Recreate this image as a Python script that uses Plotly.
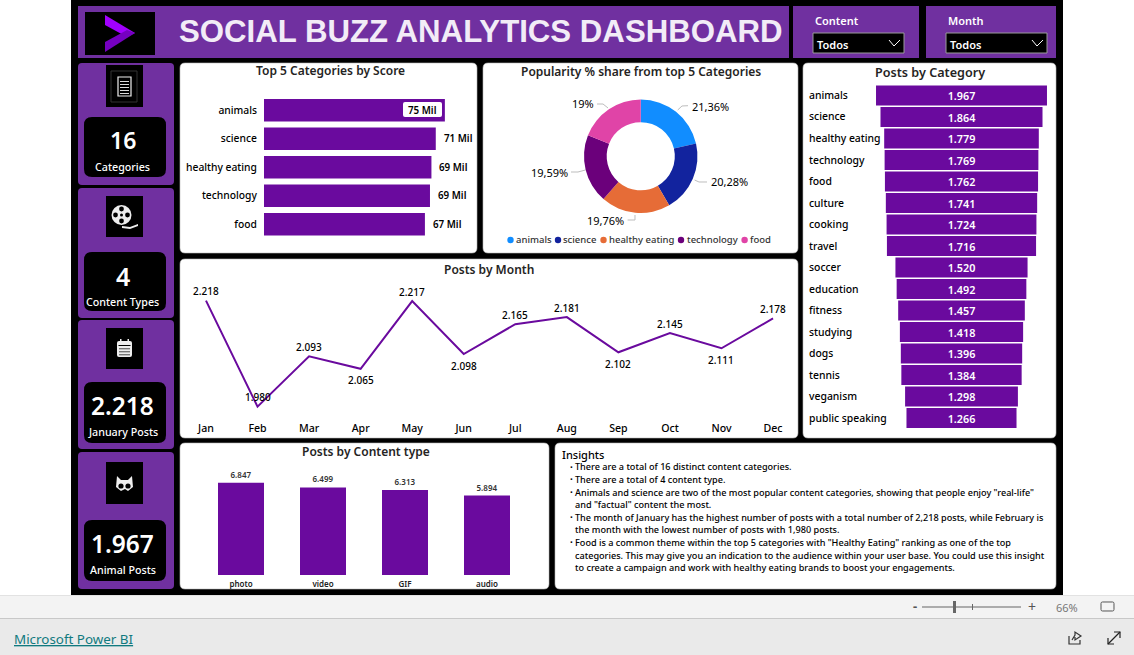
import plotly.graph_objects as go

W, H = 1134, 655
FONT = "Noto Sans"
PURPLE = "#6A0A9E"
PANEL = "#7030A0"
INK = "#252423"

top_categories = ["animals", "science", "healthy eating", "technology", "food"]
top_scores = [74.97, 71.2, 69.4, 68.8, 66.7]
top_labels = ["75 Mil", "71 Mil", "69 Mil", "69 Mil", "67 Mil"]
share_values = [21.36, 20.28, 19.76, 19.59, 19.0]
share_labels = ["21,36%", "20,28%", "19,76%", "19,59%", "19%"]
share_colors = ["#118DFF", "#12239E", "#E66C37", "#6B007B", "#E044A7"]
post_categories = ["animals", "science", "healthy eating", "technology", "food", "culture", "cooking", "travel",
                   "soccer", "education", "fitness", "studying", "dogs", "tennis", "veganism", "public speaking"]
post_counts = [1967, 1864, 1779, 1769, 1762, 1741, 1724, 1716, 1520, 1492, 1457, 1418, 1396, 1384, 1298, 1266]
months = ["Jan", "Feb", "Mar", "Apr", "May", "Jun", "Jul", "Aug", "Sep", "Oct", "Nov", "Dec"]
month_posts = [2218, 1980, 2093, 2065, 2217, 2098, 2165, 2181, 2102, 2145, 2111, 2178]
content_types = ["photo", "video", "GIF", "audio"]
content_posts = [6847, 6499, 6313, 5894]
kpi_values = ["16", "4", "2.218", "1.967"]
kpi_names = ["Categories", "Content Types", "January Posts", "Animal Posts"]
insights = [
    "There are a total of 16 distinct content categories.",
    "There are a total of 4 content type.",
    'Animals and science are two of the most popular content categories, showing that people enjoy "real-life"',
    'and "factual" content the most.',
    "The month of January has the highest number of posts with a total number of 2,218 posts, while February is",
    "the month with the lowest number of posts with 1,980 posts.",
    'Food is a common theme within the top 5 categories with "Healthy Eating" ranking as one of the top',
    "categories. This may give you an indication to the audience within your user base. You could use this insight",
    "to create a campaign and work with healthy eating brands to boost your engagements.",
]
insight_bullets = [True, True, True, False, True, False, True, False, False]


def fmt(v):
    return f"{v:,}".replace(",", ".")


def X(x):
    return x / W


def Y(y):
    return 1 - y / H


def dom_x(a, b):
    return [X(a), X(b)]


def dom_y(top, bottom):
    return [Y(bottom), Y(top)]


shapes, notes = [], []


def path_of(pts, close=True):
    s = "M" + " L".join(f"{X(x):.5f},{Y(y):.5f}" for x, y in pts)
    return s + (" Z" if close else "")


def shape_path(pts, fill=None, line=None, lw=1, close=True, layer="below"):
    shapes.append(dict(type="path", xref="paper", yref="paper", path=path_of(pts, close), layer=layer,
                       fillcolor=fill if fill else "rgba(0,0,0,0)",
                       line=dict(color=line if line else "rgba(0,0,0,0)", width=lw if line else 0)))


def rect(x0, y0, x1, y1, fill=None, line=None, lw=1, layer="below"):
    shapes.append(dict(type="rect", xref="paper", yref="paper", x0=X(x0), x1=X(x1), y0=Y(y0), y1=Y(y1), layer=layer,
                       fillcolor=fill if fill else "rgba(0,0,0,0)",
                       line=dict(color=line if line else "rgba(0,0,0,0)", width=lw if line else 0)))


def rounded(x0, y0, x1, y1, r=5, fill="white", line=None, lw=1, layer="below"):
    p = (f"M{X(x0 + r):.5f},{Y(y0):.5f} L{X(x1 - r):.5f},{Y(y0):.5f} Q{X(x1):.5f},{Y(y0):.5f} {X(x1):.5f},{Y(y0 + r):.5f} "
         f"L{X(x1):.5f},{Y(y1 - r):.5f} Q{X(x1):.5f},{Y(y1):.5f} {X(x1 - r):.5f},{Y(y1):.5f} "
         f"L{X(x0 + r):.5f},{Y(y1):.5f} Q{X(x0):.5f},{Y(y1):.5f} {X(x0):.5f},{Y(y1 - r):.5f} "
         f"L{X(x0):.5f},{Y(y0 + r):.5f} Q{X(x0):.5f},{Y(y0):.5f} {X(x0 + r):.5f},{Y(y0):.5f} Z")
    shapes.append(dict(type="path", xref="paper", yref="paper", path=p, layer=layer, fillcolor=fill,
                       line=dict(color=line if line else "rgba(0,0,0,0)", width=lw if line else 0)))


def circle(cx, cy, rx, ry=None, fill=None, line=None, lw=1, layer="below"):
    ry = rx if ry is None else ry
    shapes.append(dict(type="circle", xref="paper", yref="paper", x0=X(cx - rx), x1=X(cx + rx), y0=Y(cy - ry), y1=Y(cy + ry),
                       layer=layer, fillcolor=fill if fill else "rgba(0,0,0,0)",
                       line=dict(color=line if line else "rgba(0,0,0,0)", width=lw if line else 0)))


def text(x, y, s, size=11, color=INK, anchor="left", weight=400, font=FONT):
    notes.append(dict(xref="paper", yref="paper", x=X(x), y=Y(y), text=s, showarrow=False, xanchor=anchor, yanchor="middle",
                      borderpad=0, font=dict(family=font, size=size, color=color, weight=weight)))


# page chrome
rect(71, 0, 1063, 595, fill="black")
rect(0, 595, W, 618, fill="#F3F3F3")
rect(0, 618, W, H, fill="#EAEAEA")
rect(0, 595, W, 596, fill="#E2E2E2")
rect(0, 618, W, 619, fill="#C8C8C8")
text(12.5, 639, "<u>Microsoft Power BI</u>", size=13.4, color="#117A7F")
text(915, 606, "-", size=13, color="#555", anchor="center", weight=700)
text(1032, 606, "+", size=14, color="#555", anchor="center")
rect(922, 606.5, 1021, 607.5, fill="#666")
rect(953, 601, 956, 613, fill="#666")
rect(972, 604, 973, 610, fill="#666")
text(1067, 607, "66%", size=11, color="#777", anchor="center")
rounded(1101, 602, 1114, 611, r=1.5, fill="rgba(0,0,0,0)", line="#555", lw=1)
shape_path([(1069, 636), (1069, 644), (1080, 644), (1080, 640)], line="#333", lw=1.2, close=False)
shape_path([(1072, 640), (1075, 635), (1075, 632), (1081, 636), (1075, 640), (1075, 637)], line="#333", lw=1.2, close=False)
shape_path([(1108, 644), (1120, 632)], line="#222", lw=1.2, close=False)
shape_path([(1114, 632), (1120, 632), (1120, 638)], line="#222", lw=1.2, close=False)
shape_path([(1108, 638), (1108, 644), (1114, 644)], line="#222", lw=1.2, close=False)

# header
rect(78, 6, 789, 58, fill=PANEL)
rect(793, 6, 919, 58, fill=PANEL)
rect(926, 6, 1056, 58, fill=PANEL)
rect(85, 12, 155, 55, fill="black")
shape_path([(105, 15), (135, 33), (127, 37), (105, 25)], fill="#A100FF")
shape_path([(135, 33), (105, 52), (105, 42), (127, 30)], fill="#7500C0")
text(480.5, 31, "SOCIAL BUZZ ANALYTICS DASHBOARD", size=31.2, color="#F2ECF7", anchor="center", weight=700, font="Liberation Sans")
for x0, x1, lx, name in [(813, 904, 813.5, "Content"), (946, 1047, 946.5, "Month")]:
    text(lx, 20.5, name, size=11, color="white", weight=600)
    rect(x0, 33, x1, 53, fill="black", line="#9A9A9A", lw=1)
    text(x0 + 3, 44.5, "Todos", size=11, color="white", weight=600)
    shape_path([(x1 - 15, 40), (x1 - 10, 46), (x1 - 4, 40)], line="white", lw=1, close=False)

# left rail
rail = [(63, 185), (188, 318), (320, 449), (452, 589)]
kpi_boxes = [(117, 177), (252, 311), (382, 443), (520, 581)]
icon_boxes = [(65, 107), (196, 237), (328, 369), (462, 504)]
kpi_sizes = [23, 25, 24.5, 24.5]
kpi_name_y = [167, 302, 432, 570]
for (a, b), (c, d), (e, f), v, n, sz, ny in zip(rail, kpi_boxes, icon_boxes, kpi_values, kpi_names, kpi_sizes, kpi_name_y):
    rounded(78, a, 174, b, r=4, fill=PANEL)
    rounded(84, c, 166, d, r=8, fill="black")
    rect(106, e, 143, f, fill="black")
    text(122.5, c + 23.5, v, size=sz, color="white", anchor="center", weight=600)
    text(122.5, ny, n, size=10.7, color="white", anchor="center", weight=500)

# icons
rect(111, 71, 137, 102, line="#333", lw=1)
rect(118, 77, 131, 96, line="#EEE", lw=1.2)
for yy in (81, 84, 87, 90, 93):
    rect(120, yy, 129, yy + 1, fill="#DDD")
circle(121.5, 215, 10, fill="#EEE")
circle(121.5, 215, 1.5, fill="black")
for dx, dy in [(0, -6), (0, 6), (-6, 0), (6, 0)]:
    circle(121.5 + dx, 215 + dy, 2.4, fill="black")
shape_path([(122, 226), (130, 227), (138, 224), (138, 226), (130, 229), (122, 228)], fill="#EEE")
rounded(117, 341, 132, 357, r=2, fill="#EEE")
rect(118.5, 345, 130.5, 346, fill="black")
for yy in (348, 351, 354):
    rect(119, yy, 130, yy + 1.4, fill="#777")
rect(120, 339, 121.5, 343, fill="#EEE")
rect(127.5, 339, 129, 343, fill="#EEE")
shape_path([(117, 476), (121, 480), (128, 480), (132, 476), (133, 487), (128, 491), (125, 489), (121, 491), (116, 487)], fill="#EEE")
circle(121, 486, 2.6, fill="black")
circle(128, 486, 2.6, fill="black")

# white panels
for box in [(180, 63, 477, 253), (483, 63, 798, 253), (803, 63, 1056, 438), (180, 259, 798, 438), (180, 443, 549, 589), (555, 443, 1056, 589)]:
    rounded(*box, r=5, fill="white", line="#B9B9B9", lw=0.6)

for cx, cy, t, sz in [(330, 70.5, "Top 5 Categories by Score", 12), (640.5, 72, "Popularity % share from top 5 Categories", 12),
                      (929.5, 73, "Posts by Category", 12.6), (489, 269.5, "Posts by Month", 12), (366, 451.5, "Posts by Content type", 12)]:
    text(cx, cy, t, size=sz, color=INK, anchor="center", weight=600)

# top-5 labels
rounded(403, 102, 442, 117, r=2, fill="white", layer="above")
for i, (c, v, l) in enumerate(zip(top_categories, top_scores, top_labels)):
    inside = i == 0
    notes.append(dict(xref="x", yref="y", x=v, y=c, text=l, showarrow=False, xanchor="right" if inside else "left",
                      xshift=-7 if inside else 7, borderpad=0,
                      font=dict(family=FONT, size=9.8, color="black", weight=600)))

# donut labels and leaders
label_at = [(690.5, 107, "left"), (709.5, 182, "left"), (625, 220, "right"), (569, 172, "right"), (595, 104, "right")]
leaders = [[(677.7, 110), (682, 106), (688, 105.7)], [(694.6, 180), (699, 182), (707, 182)], [(627.6, 220), (635, 220), (635, 215)],
           [(571, 172), (578, 172), (585.4, 170)], [(597, 104), (603, 104), (608, 108)]]
for lab, (x, y, an), pts in zip(share_labels, label_at, leaders):
    text(x, y, lab, size=11, color="black", anchor=an)
    shape_path(pts, line="#BDBDBD", lw=1, close=False)
legend_x = [(510.5, 515), (558, 562), (603.5, 608), (681, 685.7), (744.6, 749)]
for (dot, tx), name, col in zip(legend_x, top_categories, share_colors):
    circle(dot, 240, 3.2, fill=col)
    text(tx, 240, name, size=9.5, color="#333", weight=500)

# funnel category labels
for c in post_categories:
    notes.append(dict(xref="paper", yref="y2", x=X(808), y=c, text=c, showarrow=False, xanchor="left", yshift=0.5, borderpad=0,
                      font=dict(family=FONT, size=10.4, color="black", weight=500)))

# month labels
month_below = ["Apr", "Jun", "Sep", "Nov"]
for m, v in zip(months, month_posts):
    notes.append(dict(xref="x3", yref="y3", x=m, y=v, text=fmt(v), showarrow=False, yanchor="middle", borderpad=0,
                      yshift=-11.5 if m in month_below else 9.5,
                      font=dict(family=FONT, size=10, color="black", weight=500)))

# insights
text(561, 454, "Insights", size=11, color="black", weight=500)
for i, (line, bullet) in enumerate(zip(insights, insight_bullets)):
    yy = 466.8 + i * 12.6
    if bullet:
        text(568.5, yy, "·", size=10, color="black", weight=700)
    text(573.5, yy, line, size=9.12, color="black", weight=500)

fig = go.Figure()
fig.add_trace(go.Bar(y=top_categories, x=top_scores, orientation="h", xaxis="x", yaxis="y", width=0.79,
                     marker=dict(color=PURPLE, line=dict(width=0)), hoverinfo="skip"))
fig.add_trace(go.Pie(values=share_values, labels=top_categories, hole=0.6, sort=False, direction="clockwise", rotation=0,
                     marker=dict(colors=share_colors, line=dict(width=0)), textinfo="none", showlegend=False,
                     domain=dict(x=dom_x(584, 697.5), y=dom_y(99.5, 213))))
fig.add_trace(go.Funnel(y=post_categories, x=post_counts, xaxis="x2", yaxis="y2", orientation="h", text=[fmt(v) for v in post_counts],
                        textinfo="text", textposition="inside", insidetextanchor="middle", constraintext="none",
                        insidetextfont=dict(family=FONT, size=10.8, color="white", weight=600),
                        connector=dict(visible=False), marker=dict(color=PURPLE, line=dict(width=0))))
fig.add_trace(go.Scatter(x=months, y=month_posts, xaxis="x3", yaxis="y3", mode="lines",
                         line=dict(color=PURPLE, width=2), cliponaxis=False))
fig.add_trace(go.Bar(x=content_types, y=content_posts, xaxis="x4", yaxis="y4", width=0.561, text=[fmt(v) for v in content_posts],
                     textposition="outside", cliponaxis=False, textfont=dict(family=FONT, size=8, color="#333", weight=600),
                     marker=dict(color=PURPLE, line=dict(width=0))))

hidden = dict(showgrid=False, zeroline=False, showline=False)
tick_font = dict(family=FONT, size=10.6, color="black", weight=500)
fig.update_layout(
    width=W, height=H, margin=dict(l=0, r=0, t=0, b=0), autosize=False, showlegend=False,
    paper_bgcolor="white", plot_bgcolor="rgba(0,0,0,0)", funnelgap=0.08, font=dict(family=FONT),
    xaxis=dict(domain=dom_x(264, 464), range=[0, 82.9], showticklabels=False, anchor="y", **hidden),
    yaxis=dict(domain=dom_y(96, 238.5), autorange="reversed", anchor="x", ticks="outside", ticklen=4, tickcolor="rgba(0,0,0,0)",
               tickfont=dict(family=FONT, size=10.3, color="black", weight=500), **hidden),
    xaxis2=dict(domain=dom_x(866.5, 1056.5), range=[-1093, 1093], showticklabels=False, anchor="y2", **hidden),
    yaxis2=dict(domain=dom_y(84.75, 428.75), autorange="reversed", showticklabels=False, anchor="x2", **hidden),
    xaxis3=dict(domain=dom_x(180.2, 798.8), range=[-0.5, 11.5], anchor="y3", tickfont=tick_font, ticks="", **hidden),
    yaxis3=dict(domain=dom_y(285, 420), range=[1950, 2253], showticklabels=False, anchor="x3", **hidden),
    xaxis4=dict(domain=dom_x(200, 528), range=[-0.5, 3.5], anchor="y4", ticks="outside", ticklen=1, tickcolor="rgba(0,0,0,0)",
                tickfont=dict(family=FONT, size=8, color="#222", weight=600), **hidden),
    yaxis4=dict(domain=dom_y(465, 575), range=[0, 8160], showticklabels=False, anchor="x4", **hidden),
    shapes=shapes, annotations=notes,
)

fig.write_html("out.html", config=dict(displayModeBar=False),
               post_script="document.body.style.margin='0';document.body.style.overflow='hidden';")
